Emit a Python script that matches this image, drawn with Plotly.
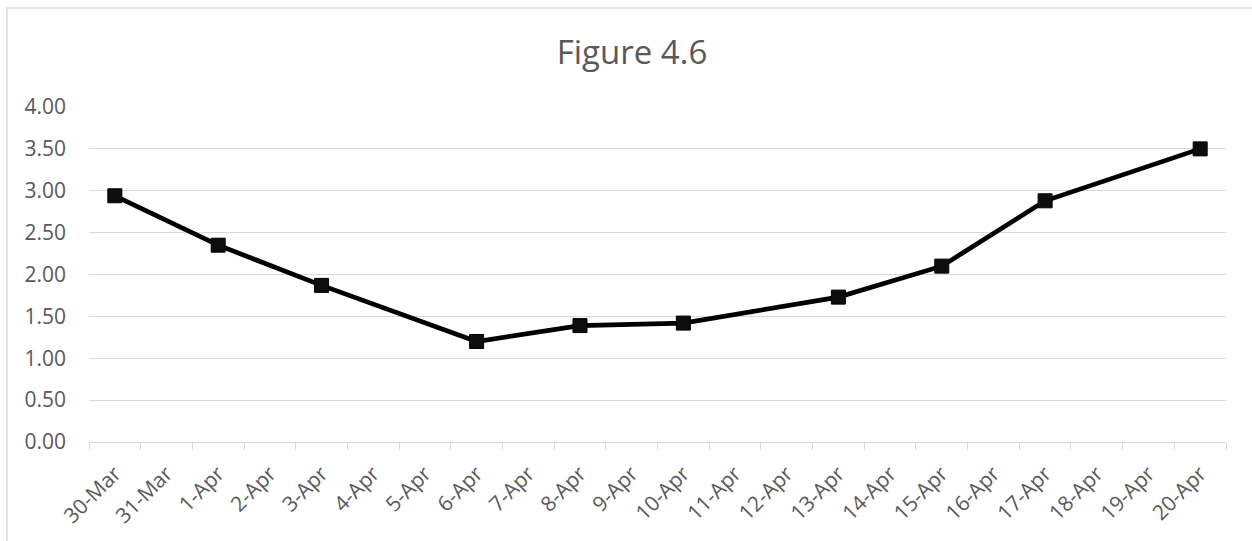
import plotly.graph_objects as go

categories = ["30-Mar", "31-Mar", "1-Apr", "2-Apr", "3-Apr", "4-Apr", "5-Apr", "6-Apr",
              "7-Apr", "8-Apr", "9-Apr", "10-Apr", "11-Apr", "12-Apr", "13-Apr", "14-Apr",
              "15-Apr", "16-Apr", "17-Apr", "18-Apr", "19-Apr", "20-Apr"]
point_dates = ["30-Mar", "1-Apr", "3-Apr", "6-Apr", "8-Apr", "10-Apr", "13-Apr",
               "15-Apr", "17-Apr", "20-Apr"]
point_values = [2.94, 2.35, 1.87, 1.20, 1.39, 1.42, 1.73, 2.10, 2.88, 3.50]
y_ticks = [0, 0.5, 1.0, 1.5, 2.0, 2.5, 3.0, 3.5, 4.0]
title_text = "Figure 4.6"

FONT = "Open Sans"
TXT = "#595959"
GRID = "#D9D9D9"

W, H = 1252, 541
L, R, T, B = 89, 1226, 107, 442

fig = go.Figure()
fig.add_trace(go.Scatter(
    x=point_dates, y=point_values, mode="lines+markers",
    line=dict(color="#000000", width=4.7),
    marker=dict(symbol="square", size=14, color="#0d0d0d",
                line=dict(color="#000000", width=1)),
    showlegend=False, hoverinfo="x+y",
))

fig.update_layout(
    width=W, height=H,
    margin=dict(l=L, r=W - R, t=T, b=H - B, pad=0),
    paper_bgcolor="white", plot_bgcolor="white",
    font=dict(family=FONT, color=TXT, size=21),
    title=dict(text=title_text, font=dict(family=FONT, size=33, color=TXT),
               x=632 / W, xref="container", xanchor="center",
               y=1 - 52 / H, yref="container", yanchor="middle"),
    xaxis=dict(
        type="category", categoryorder="array", categoryarray=categories,
        range=[-0.5, len(categories) - 0.5],
        tickmode="array", tickvals=categories, ticktext=categories,
        tickson="boundaries", ticks="outside", ticklen=7, tickcolor=GRID,
        tickwidth=1, showgrid=False, showline=True, linecolor=GRID, linewidth=1,
        tickangle=-45, tickfont=dict(family=FONT, size=21, color=TXT),
        ticklabelstandoff=10, zeroline=False, fixedrange=True,
    ),
    yaxis=dict(
        range=[0, 4], tickmode="array", tickvals=y_ticks,
        ticktext=[f"{v:.2f}" for v in y_ticks],
        showgrid=True, gridcolor=GRID, gridwidth=1, zeroline=False,
        showline=False, ticks="", tickfont=dict(family=FONT, size=21, color=TXT),
        ticklabelstandoff=22, fixedrange=True,
    ),
    shapes=[dict(
        type="rect", xref="paper", yref="paper",
        x0=(7 - L) / (R - L), x1=(W + 20 - L) / (R - L),
        y0=(B - (H + 20)) / (B - T), y1=(B - 8) / (B - T),
        line=dict(color=GRID, width=1.5), fillcolor="rgba(0,0,0,0)", layer="below",
    )],
)

fig.write_html("out.html")
